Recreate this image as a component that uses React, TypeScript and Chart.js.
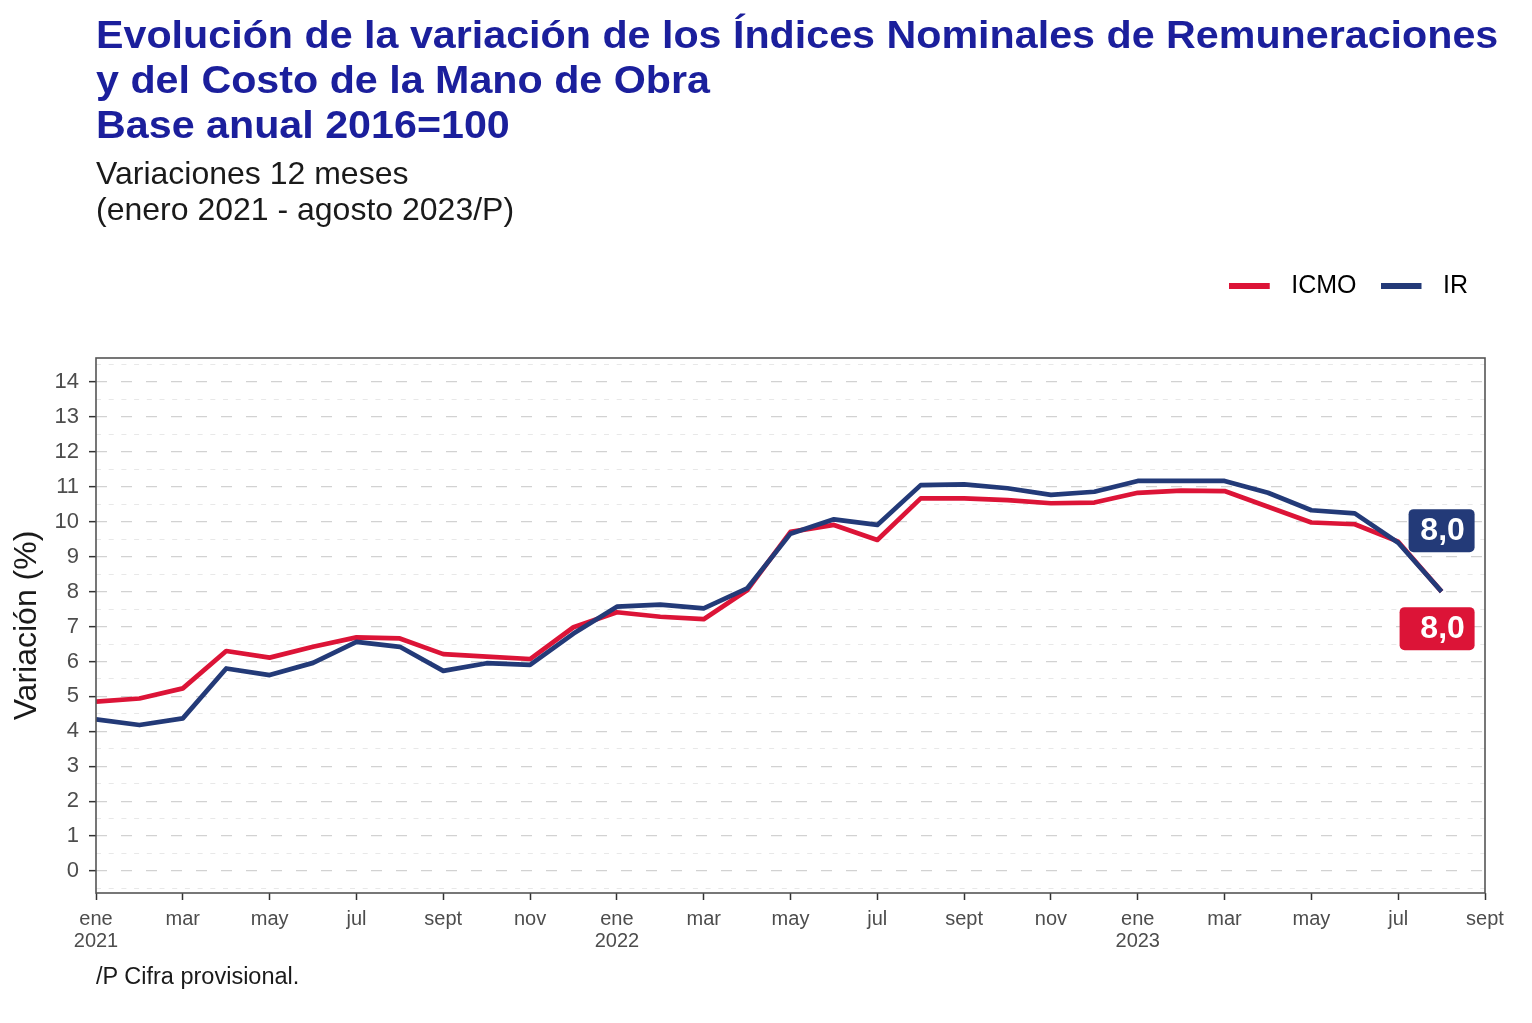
import React, { useEffect, useRef } from 'react';
import { Chart, registerables } from 'chart.js';

Chart.register(...registerables);

const FONT = '"Liberation Sans", Arial, Helvetica, sans-serif';

// ---- data ----
const monthNames = ['ene', 'feb', 'mar', 'abr', 'may', 'jun', 'jul', 'ago', 'sept', 'oct', 'nov', 'dic'];
const startYear = 2021;
const seriesNames = ['ICMO', 'IR'];
const icmoValues = [
  4.85, 4.94, 5.23, 6.30, 6.11, 6.42, 6.69, 6.66, 6.21, 6.14, 6.07, 6.98,
  7.41, 7.28, 7.21, 8.04, 9.71, 9.91, 9.48, 10.67, 10.67, 10.62, 10.53, 10.55,
  10.83, 10.89, 10.88, 10.43, 9.98, 9.93, 9.43, 8.0,
];
const irValues = [
  4.34, 4.18, 4.37, 5.80, 5.61, 5.96, 6.56, 6.42, 5.73, 5.95, 5.90, 6.80,
  7.57, 7.63, 7.52, 8.09, 9.66, 10.07, 9.91, 11.05, 11.07, 10.96, 10.77, 10.86,
  11.17, 11.17, 11.17, 10.83, 10.33, 10.24, 9.40, 8.0,
];
const yMin = -0.63;
const yMax = 14.69;
const xMin = 0;
const xMax = 32;

// ---- styles ----
const seriesColors = ['#dc1437', '#233a78'];
const labelBoxes = [
  { dy: 37, width: 75, height: 43 },
  { dy: -61, width: 66, height: 43 },
];

function monthLabel(idx: number): string | string[] {
  const m = ((idx % 12) + 12) % 12;
  const y = startYear + Math.floor(idx / 12);
  return m === 0 ? [monthNames[m], String(y)] : monthNames[m];
}

function makeSwatch(color: string): HTMLCanvasElement {
  const c = document.createElement('canvas');
  c.width = 50;
  c.height = 6;
  const g = c.getContext('2d');
  if (g) {
    g.fillStyle = color;
    g.fillRect(0, 0, 41, 6);
  }
  return c;
}

const panelBorder = {
  id: 'panelBorder',
  afterDraw(chart: any) {
    const { ctx, chartArea } = chart;
    ctx.save();
    ctx.strokeStyle = '#555555';
    ctx.lineWidth = 1.6;
    ctx.strokeRect(chartArea.left, chartArea.top, chartArea.right - chartArea.left, chartArea.bottom - chartArea.top);
    ctx.restore();
  },
};

const endLabels = {
  id: 'endLabels',
  afterDatasetsDraw(chart: any) {
    const { ctx } = chart;
    chart.data.datasets.forEach((ds: any, i: number) => {
      const meta = chart.getDatasetMeta(i);
      const pt = meta.data[meta.data.length - 1];
      if (!pt) return;
      const last = ds.data[ds.data.length - 1].y;
      const text = last.toFixed(1).replace('.', ',');
      const box = labelBoxes[i];
      const cx = pt.x;
      const cy = pt.y + box.dy;
      const right = cx + 33;
      const left = right - box.width;
      const top = cy - box.height / 2;
      ctx.save();
      ctx.fillStyle = ds.borderColor;
      ctx.beginPath();
      (ctx as any).roundRect(left, top, box.width, box.height, 5);
      ctx.fill();
      ctx.fillStyle = '#ffffff';
      ctx.font = `bold 32px ${FONT}`;
      ctx.textAlign = 'center';
      ctx.textBaseline = 'middle';
      ctx.fillText(text, cx + 1, cy + 1);
      ctx.restore();
    });
  },
};

export default function App() {
  const canvasRef = useRef<HTMLCanvasElement | null>(null);

  useEffect(() => {
    const canvas = canvasRef.current;
    if (!canvas) return;
    const series = [icmoValues, irValues];
    const swatches = seriesColors.map(makeSwatch);
    const chart = new Chart(canvas, {
      type: 'line',
      data: {
        datasets: series.map((vals, i) => ({
          label: seriesNames[i],
          data: vals.map((v, j) => ({ x: j, y: v })),
          borderColor: seriesColors[i],
          backgroundColor: seriesColors[i],
          borderWidth: 4.7,
          pointRadius: 0,
          tension: 0,
          borderJoinStyle: 'round' as const,
          order: i === 1 ? 0 : 1,
        })),
      },
      options: {
        responsive: false,
        animation: false,
        devicePixelRatio: 1,
        layout: { padding: { top: 249.5, right: 40, left: 0, bottom: 0 } },
        plugins: {
          tooltip: { enabled: false },
          title: { display: false },
          subtitle: {
            display: true,
            text: '',
            weight: 500,
            font: { size: 10, lineHeight: 1 },
            padding: { top: 39.5, bottom: 0 },
          } as any,
          legend: {
            position: 'top',
            align: 'end',
            labels: {
              usePointStyle: true,
              pointStyleWidth: 50,
              boxWidth: 50,
              boxHeight: 6,
              padding: 24,
              color: '#1a1a1a',
              font: { size: 25, family: FONT },
              sort: (a: any, b: any) => a.datasetIndex - b.datasetIndex,
              generateLabels: (c: any) =>
                c.data.datasets.map((ds: any, i: number) => ({
                  text: ds.label,
                  fillStyle: ds.borderColor,
                  strokeStyle: ds.borderColor,
                  lineWidth: 0,
                  pointStyle: swatches[i],
                  hidden: false,
                  datasetIndex: i,
                })),
            },
          },
        },
        scales: {
          x: {
            type: 'linear',
            min: xMin,
            max: xMax,
            afterFit: (s: any) => { s.height = 130; },
            ticks: {
              stepSize: 2,
              autoSkip: false,
              maxRotation: 0,
              includeBounds: false,
              padding: 8,
              color: '#4d4d4d',
              font: { size: 20, family: FONT, lineHeight: 1.1 },
              callback: (v: any) => monthLabel(Math.round(Number(v))),
            },
            grid: {
              drawOnChartArea: false,
              drawTicks: true,
              tickLength: 7,
              tickColor: '#333333',
              tickWidth: 1.5,
            },
            border: { display: false },
          },
          y: {
            min: yMin,
            max: yMax,
            afterFit: (s: any) => { s.width = 96; },
            ticks: {
              stepSize: 1,
              includeBounds: false,
              padding: 10,
              color: '#4d4d4d',
              font: { size: 22, family: FONT },
              callback: (v: any) => String(v),
            },
            grid: {
              color: '#d2d2d2',
              lineWidth: 1.3,
              drawTicks: true,
              tickLength: 7,
              tickColor: '#333333',
              tickWidth: 1.5,
            },
            border: { display: false, dash: [11, 14] },
            title: {
              display: true,
              text: 'Variación (%)',
              color: '#1a1a1a',
              font: { size: 32, family: FONT },
              padding: { top: 8, bottom: 0 },
            },
          },
          yMinor: {
            position: 'left',
            min: yMin,
            max: yMax,
            afterFit: (s: any) => { s.width = 0; },
            ticks: { display: false, stepSize: 0.5, includeBounds: false },
            grid: {
              drawTicks: false,
              tickLength: 0,
              lineWidth: 1,
              color: (ctx: any) =>
                ctx.tick && Math.abs(ctx.tick.value % 1) > 0.01 ? '#e8e8e8' : 'rgba(0,0,0,0)',
            },
            border: { display: false, dash: [5, 7.7] },
          },
          rightSpacer: {
            position: 'right',
            min: yMin,
            max: yMax,
            afterFit: (s: any) => { s.width = 7; },
            ticks: { display: false },
            grid: { display: false, drawOnChartArea: false, drawTicks: false },
            border: { display: false },
          },
        },
      } as any,
      plugins: [panelBorder, endLabels],
    });
    return () => chart.destroy();
  }, []);

  return (
    <div style={{ position: 'absolute', left: 0, top: 0, width: 1532, height: 1023, background: '#ffffff', overflow: 'hidden' }}>
      <canvas
        ref={canvasRef}
        width={1532}
        height={1023}
        style={{ position: 'absolute', left: 0, top: 0, width: 1532, height: 1023 }}
      />
      <div
        style={{
          position: 'absolute', left: 96, top: 13, fontFamily: FONT, fontWeight: 'bold',
          fontSize: 38, lineHeight: '45px', color: '#1b1f9c', whiteSpace: 'pre',
          transform: 'scaleX(1.085)', transformOrigin: 'left top',
        }}
      >
        {'Evolución de la variación de los Índices Nominales de Remuneraciones\ny del Costo de la Mano de Obra\nBase anual 2016=100'}
      </div>
      <div
        style={{
          position: 'absolute', left: 96, top: 155, fontFamily: FONT, fontSize: 32,
          lineHeight: '36px', color: '#1a1a1a', whiteSpace: 'pre',
        }}
      >
        {'Variaciones 12 meses\n(enero 2021 - agosto 2023/P)'}
      </div>
      <div
        style={{
          position: 'absolute', left: 96, top: 963, fontFamily: FONT, fontSize: 23.5,
          lineHeight: '26px', color: '#1a1a1a', whiteSpace: 'pre',
        }}
      >
        {'/P Cifra provisional.'}
      </div>
    </div>
  );
}
